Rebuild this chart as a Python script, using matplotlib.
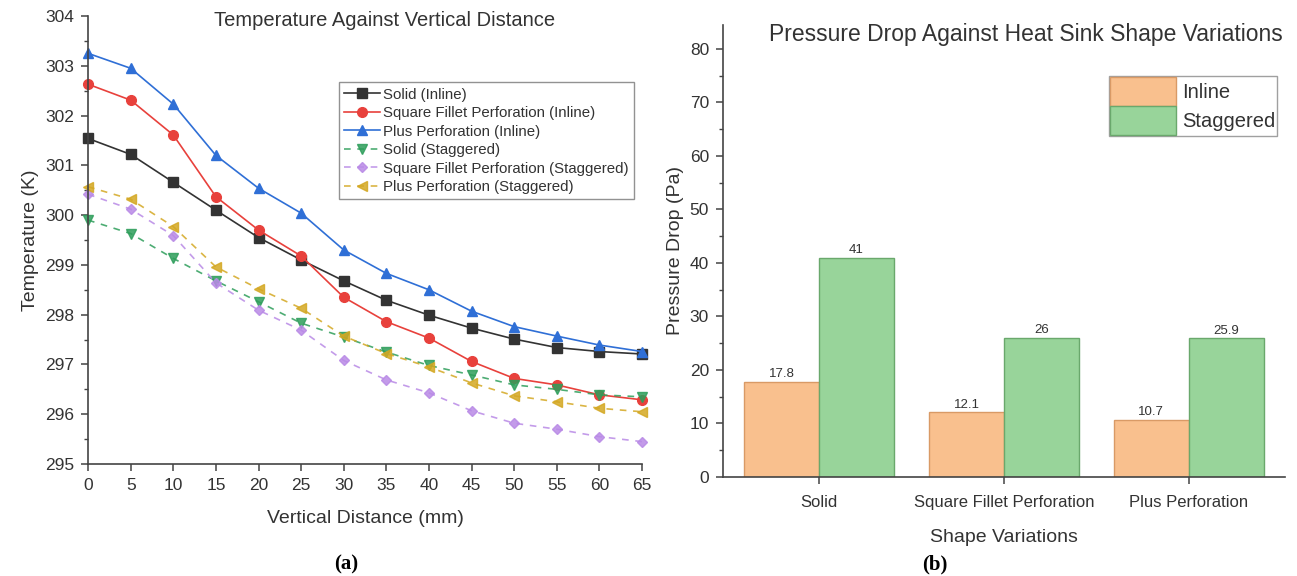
import matplotlib
matplotlib.use("Agg")
import matplotlib.pyplot as plt
from matplotlib.ticker import MultipleLocator

plt.rcParams["font.family"] = ["Liberation Sans", "DejaVu Sans"]

# panel (a) data
distance = [0, 5, 10, 15, 20, 25, 30, 35, 40, 45, 50, 55, 60, 65]
solid_inline = [301.54, 301.22, 300.66, 300.10, 299.55, 299.10, 298.68, 298.29, 297.99, 297.73, 297.51, 297.34, 297.26, 297.21]
square_inline = [302.63, 302.31, 301.61, 300.37, 299.70, 299.18, 298.35, 297.86, 297.53, 297.06, 296.72, 296.59, 296.39, 296.29]
plus_inline = [303.25, 302.95, 302.23, 301.20, 300.54, 300.04, 299.30, 298.83, 298.50, 298.07, 297.76, 297.57, 297.39, 297.26]
solid_stag = [299.90, 299.63, 299.13, 298.68, 298.26, 297.83, 297.55, 297.25, 296.98, 296.79, 296.59, 296.50, 296.39, 296.35]
square_stag = [300.42, 300.12, 299.59, 298.64, 298.09, 297.69, 297.08, 296.69, 296.43, 296.07, 295.82, 295.70, 295.55, 295.45]
plus_stag = [300.57, 300.32, 299.77, 298.96, 298.52, 298.13, 297.57, 297.22, 296.95, 296.63, 296.37, 296.25, 296.12, 296.05]

# panel (b) data
shapes = ["Solid", "Square Fillet Perforation", "Plus Perforation"]
dp_inline = [17.8, 12.1, 10.7]
dp_staggered = [41, 26, 25.9]

TXT = "#333333"

fig = plt.figure(figsize=(12.97, 5.76), dpi=100)
ax1 = fig.add_axes([0.0679, 0.1944, 0.4271, 0.7778])
ax2 = fig.add_axes([0.5574, 0.1719, 0.4333, 0.785])

series = [
    (solid_inline, "Solid (Inline)", "#333333", "s", "-", 1.0),
    (square_inline, "Square Fillet Perforation (Inline)", "#e8413c", "o", "-", 1.0),
    (plus_inline, "Plus Perforation (Inline)", "#2f6fd6", "^", "-", 1.0),
    (solid_stag, "Solid (Staggered)", "#2e9e5b", "v", "--", 0.85),
    (square_stag, "Square Fillet Perforation (Staggered)", "#b98ae6", "D", "--", 0.85),
    (plus_stag, "Plus Perforation (Staggered)", "#d4a823", "<", "--", 0.85),
]
for vals, label, color, marker, ls, alpha in series:
    ms = 5.5 if marker == "D" else 7
    ax1.plot(distance, vals, color=color, marker=marker, linestyle=ls, lw=1.2,
             markersize=ms, alpha=alpha, label=label, clip_on=False,
             dashes=(4, 4) if ls == "--" else (None, None))

ax1.set_xlim(0, 65)
ax1.set_ylim(295, 304)
ax1.xaxis.set_major_locator(MultipleLocator(5))
ax1.yaxis.set_major_locator(MultipleLocator(1))
ax1.yaxis.set_minor_locator(MultipleLocator(0.5))
ax1.set_xlabel("Vertical Distance (mm)", fontsize=14, color=TXT, labelpad=12)
ax1.set_ylabel("Temperature (K)", fontsize=14, color=TXT, labelpad=4)
ax1.text(0.536, 0.991, "Temperature Against Vertical Distance", transform=ax1.transAxes,
         fontsize=14.5, color=TXT, ha="center", va="center")
leg1 = ax1.legend(loc="upper right", bbox_to_anchor=(0.985, 0.852), fontsize=10.8,
                  fancybox=False, edgecolor="#777777", handlelength=2.4,
                  labelspacing=0.3, borderpad=0.35, handletextpad=0.2, borderaxespad=0)
for t in leg1.get_texts():
    t.set_color(TXT)

# bars
x = list(range(len(shapes)))
w = 0.405
b1 = ax2.bar([i - w / 2 for i in x], dp_inline, width=w, color="#f9c08e",
             edgecolor="#d99a66", linewidth=1, label="Inline")
b2 = ax2.bar([i + w / 2 for i in x], dp_staggered, width=w, color="#98d49a",
             edgecolor="#6aa86c", linewidth=1, label="Staggered")
for bars in (b1, b2):
    ax2.bar_label(bars, labels=[f"{v:g}" for v in bars.datavalues], padding=1,
                  fontsize=9.5, color=TXT)

ax2.set_xlim(-0.52, 2.52)
ax2.set_ylim(0, 84.5)
ax2.set_xticks(x)
ax2.set_xticklabels(shapes)
ax2.yaxis.set_major_locator(MultipleLocator(10))
ax2.yaxis.set_minor_locator(MultipleLocator(5))
ax2.set_xlabel("Shape Variations", fontsize=14, color=TXT, labelpad=14)
ax2.set_ylabel("Pressure Drop (Pa)", fontsize=14, color=TXT, labelpad=4)
ax2.text(0.996, 0.978, "Pressure Drop Against Heat Sink Shape Variations",
         transform=ax2.transAxes, fontsize=16.5, color=TXT, ha="right", va="center")
leg2 = ax2.legend(loc="upper right", bbox_to_anchor=(0.985, 0.887), fontsize=14.5,
                  fancybox=False, edgecolor="#888888", handlelength=3.3,
                  handleheight=1.85, labelspacing=0.0, borderpad=0.05,
                  handletextpad=0.3, borderaxespad=0)
for t in leg2.get_texts():
    t.set_color(TXT)

for ax in (ax1, ax2):
    ax.spines["top"].set_visible(False)
    ax.spines["right"].set_visible(False)
    for s in ("left", "bottom"):
        ax.spines[s].set_color("#444444")
        ax.spines[s].set_linewidth(1.2)
    ax.tick_params(which="major", direction="out", length=5, width=1.1,
                   colors="#444444", labelcolor=TXT, labelsize=12.5, pad=5)
    ax.tick_params(which="minor", direction="out", length=3, width=1.0,
                   colors="#444444")
ax2.tick_params(axis="x", labelsize=12, pad=8)

fig.text(0.267, 0.012, "(a)", fontsize=15, fontweight="bold",
         family="Liberation Serif", ha="center")
fig.text(0.721, 0.012, "(b)", fontsize=15, fontweight="bold",
         family="Liberation Serif", ha="center")

fig.savefig("out.png", dpi=100)
